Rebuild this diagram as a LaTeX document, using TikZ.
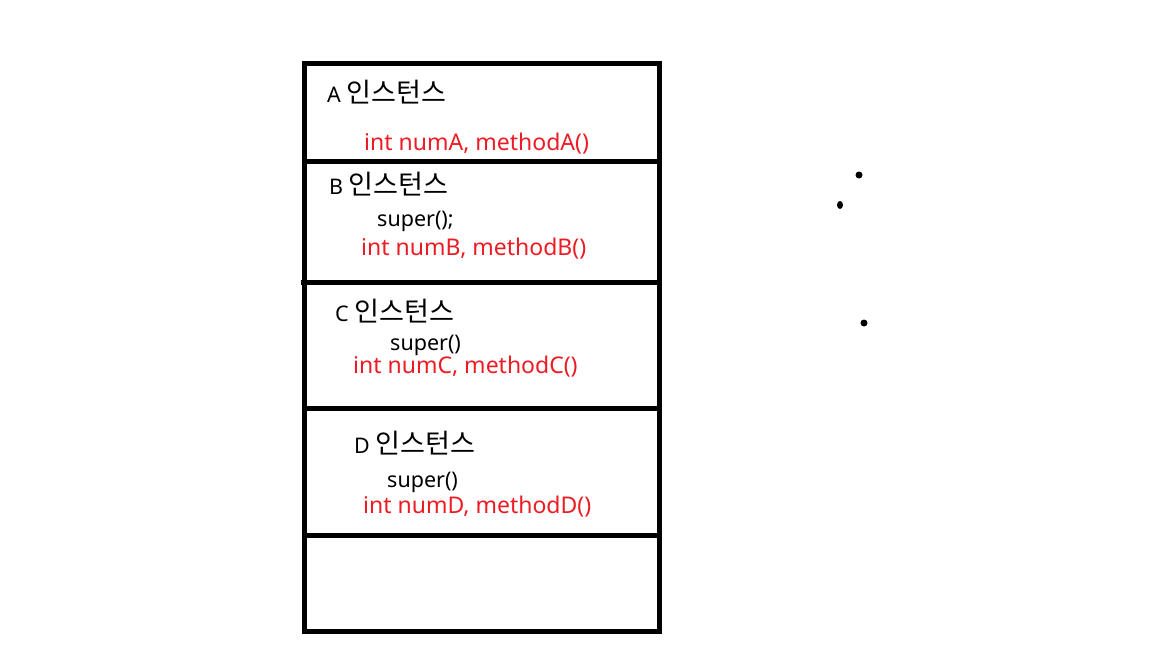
\documentclass[tikz,border=0pt]{standalone}
\usepackage{fontspec}
\usetikzlibrary{shapes.geometric}
\setmainfont{Noto Sans}
\newfontfamily\kr[Scale=1.26]{Noto Sans CJK KR}
\definecolor{txtred}{RGB}{237,28,36}
\begin{document}
\begin{tikzpicture}[x=1pt,y=-1pt,
  frame/.style={line width=5pt},
  title/.style={anchor=base west,inner sep=0pt,font=\fontsize{21.5}{24}\selectfont},
  call/.style={anchor=base west,inner sep=0pt,font=\fontsize{21.5}{24}\selectfont},
  member/.style={anchor=base west,inner sep=0pt,text=txtred,font=\fontsize{23}{26}\selectfont},
  dot/.style={circle,fill=black,inner sep=0pt,minimum size=7pt}]
\useasboundingbox[fill=white] (0,0) rectangle (1152,648);
% frame
\coordinate (tl) at (304,63);
\coordinate (br) at (659,631);
\draw[frame] (tl) rectangle (br);
\coordinate (l1) at (302,161); \coordinate (r1) at (659,161);
\coordinate (l2) at (301,282); \coordinate (r2) at (661,282);
\coordinate (l3) at (304,408); \coordinate (r3) at (659,408);
\coordinate (l4) at (307,535); \coordinate (r4) at (659,535);
\draw[frame] (l1) -- (r1);
\draw[frame] (l2) -- (r2);
\draw[frame] (l3) -- (r3);
\draw[frame] (l4) -- (r4);
% A
\node[title] (ta) at (327,102) {A {\kr 인스턴스}};
\node[member] (ma) at (364,150) {int numA, methodA()};
% B
\node[title] (tb) at (329,194) {B {\kr 인스턴스}};
\node[call] (sb) at (377,226) {super();};
\node[member] (mb) at (361,255) {int numB, methodB()};
% C
\node[title] (tc) at (335,321) {C {\kr 인스턴스}};
\node[call] (sc) at (390,350) {super()};
\node[member] (mc) at (353,373) {int numC, methodC()};
% D
\node[title] (td) at (354,453) {D {\kr 인스턴스}};
\node[call] (sd) at (387,487) {super()};
\node[member] (md) at (363,513) {int numD, methodD()};
% dots
\node[dot] (d1) at (859,175) {};
\node[dot, ellipse, minimum width=6pt, minimum height=8pt] (d2) at (840,205) {};
\node[dot] (d3) at (864,323) {};
\end{tikzpicture}
\end{document}
